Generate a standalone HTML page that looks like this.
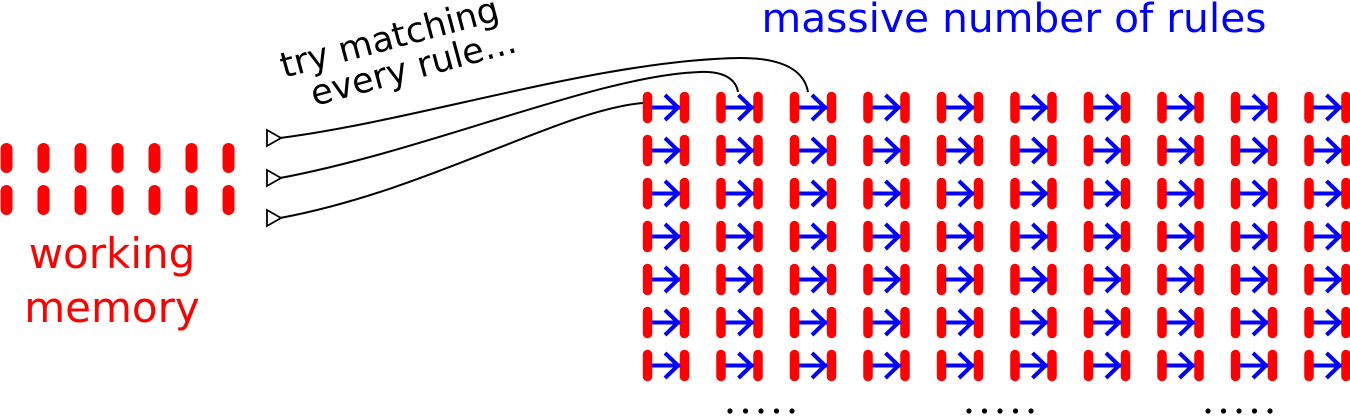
<!DOCTYPE html>
<html><head><meta charset="utf-8"><style>
html,body{margin:0;padding:0;background:#fff;}
svg{display:block;font-family:"DejaVu Sans","Liberation Sans",sans-serif;}
</style></head><body>
<svg id="d" width="1350" height="419" viewBox="0 0 1350 419">
<text x="1014" y="32" font-size="40" fill="#0000ff" text-anchor="middle" textLength="505" lengthAdjust="spacingAndGlyphs">massive number of rules</text>
<g transform="translate(284,78) rotate(-15)" font-size="35" fill="#000">
<text x="0" y="0">try matching</text>
<text x="22" y="35">every rule...</text>
</g>
<text x="112" y="268" font-size="42" fill="#ff0000" text-anchor="middle">working</text>
<text x="112" y="322" font-size="42" fill="#ff0000" text-anchor="middle">memory</text>
<g fill="none" stroke="#000" stroke-width="2">
<path d="M280 138 C420 120, 600 60, 740 58 C790 58, 805 75, 808 92"/>
<path d="M280 178 C430 150, 600 75, 700 72 C725 71, 736 80, 738 92"/>
<path d="M280 218 C430 190, 560 110, 643 103"/>
<g stroke-width="1.8" fill="#fff">
<path d="M267 130 L281 138 L267 146 Z"/>
<path d="M267 170 L281 178 L267 186 Z"/>
<path d="M267 210 L281 218 L267 226 Z"/>
</g>
</g>
<g id="wm"></g>
<g id="rules"></g>
<g id="dots" fill="#000"></g>
</svg>
<script>
const wmCols=[0,1,2,3,4,5,6];
const wmRows=[0,1];
const ruleCols=[0,1,2,3,4,5,6,7,8,9];
const ruleRows=[0,1,2,3,4,5,6];
const dotGroups=[0,1,2];
const NS="http://www.w3.org/2000/svg";
function mk(tag,attrs,parent){const e=document.createElementNS(NS,tag);for(const k in attrs)e.setAttribute(k,attrs[k]);parent.appendChild(e);return e;}
const wm=document.getElementById('wm');
wmRows.forEach(r=>wmCols.forEach(c=>{
  const x=6.5+c*37, y=149+r*42;
  const l=mk('line',{x1:x,y1:y,x2:x,y2:y+18,stroke:'#ff0000','stroke-width':12,'stroke-linecap':'round'},wm);
  
  
}));
const rg=document.getElementById('rules');
ruleRows.forEach(r=>ruleCols.forEach(c=>{
  const x=643+c*73.5, y=92+r*43;
  const g=mk('g',{},rg);
  
  
  mk('line',{x1:x+4.5,y1:y+4.5,x2:x+4.5,y2:y+26.5,stroke:'#ff0000','stroke-width':9.5,'stroke-linecap':'round'},g);
  mk('line',{x1:x+41.5,y1:y+4.5,x2:x+41.5,y2:y+26.5,stroke:'#ff0000','stroke-width':9.5,'stroke-linecap':'round'},g);
  mk('line',{x1:x+9,y1:y+15.5,x2:x+37,y2:y+15.5,stroke:'#0000ff','stroke-width':4},g);
  mk('path',{d:`M${x+22} ${y+3} L${x+35} ${y+15.5} L${x+22} ${y+28}`,stroke:'#0000ff','stroke-width':4,fill:'none'},g);
}));
const dg=document.getElementById('dots');
dotGroups.forEach(gi=>{
  for(let i=0;i<5;i++){
    const d=mk('circle',{cx:730+gi*239+i*15.5,cy:411,r:2.6},dg);
    
    
  }
});
</script>
</body></html>
